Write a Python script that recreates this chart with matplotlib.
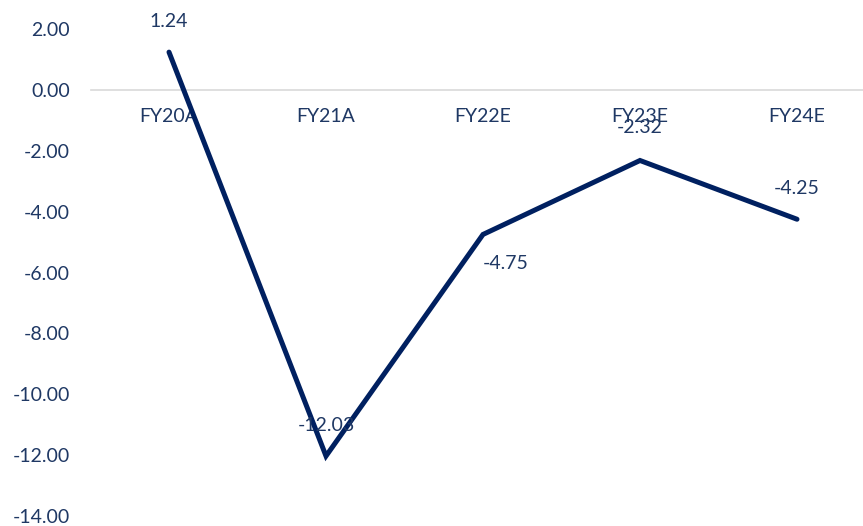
import matplotlib.pyplot as plt
from matplotlib.ticker import FormatStrFormatter

CATEGORIES = ["FY20A", "FY21A", "FY22E", "FY23E", "FY24E"]
VALUES = [1.24, -12.03, -4.75, -2.32, -4.25]
# label offsets in points (dx, dy) relative to each point
LABEL_OFFSETS = [(0, 22), (0, 22), (16, -21), (0, 24), (0, 22)]

NAVY = "#002060"
TEXT = "#1f3864"
GRID = "#d9d9d9"

plt.rcParams.update({"font.family": ["Lato", "DejaVu Sans"], "font.size": 14})

fig = plt.figure(figsize=(8.63, 5.26), dpi=100)
ax = fig.add_axes([90.5 / 863, 1 - 516 / 526, 785 / 863, (516 - 29) / 526])

x = list(range(len(CATEGORIES)))
ax.plot(x, VALUES, color=NAVY, linewidth=3.6, solid_capstyle="round", solid_joinstyle="miter", zorder=3)
for xi, v, (dx, dy) in zip(x, VALUES, LABEL_OFFSETS):
    ax.annotate(f"{v:.2f}", (xi, v), xytext=(dx, dy), textcoords="offset points",
                ha="center", va="center", color=TEXT, fontsize=14, zorder=4)

ax.set_xlim(-0.5, len(CATEGORIES) - 0.5)
ax.set_ylim(-14, 2)
ax.set_yticks(range(-14, 3, 2))
ax.yaxis.set_major_formatter(FormatStrFormatter("%.2f"))
ax.set_xticks(x)
ax.set_xticklabels(CATEGORIES)

for s in ["top", "right", "left"]:
    ax.spines[s].set_visible(False)
ax.spines["bottom"].set_position(("data", 0))
ax.spines["bottom"].set_color(GRID)
ax.spines["bottom"].set_linewidth(1.2)
ax.tick_params(axis="x", length=0, pad=13, colors=TEXT, labelsize=14)
ax.tick_params(axis="y", length=0, pad=15, colors=TEXT, labelsize=14)
ax.set_facecolor("none")

fig.savefig("out.png", dpi=100)
